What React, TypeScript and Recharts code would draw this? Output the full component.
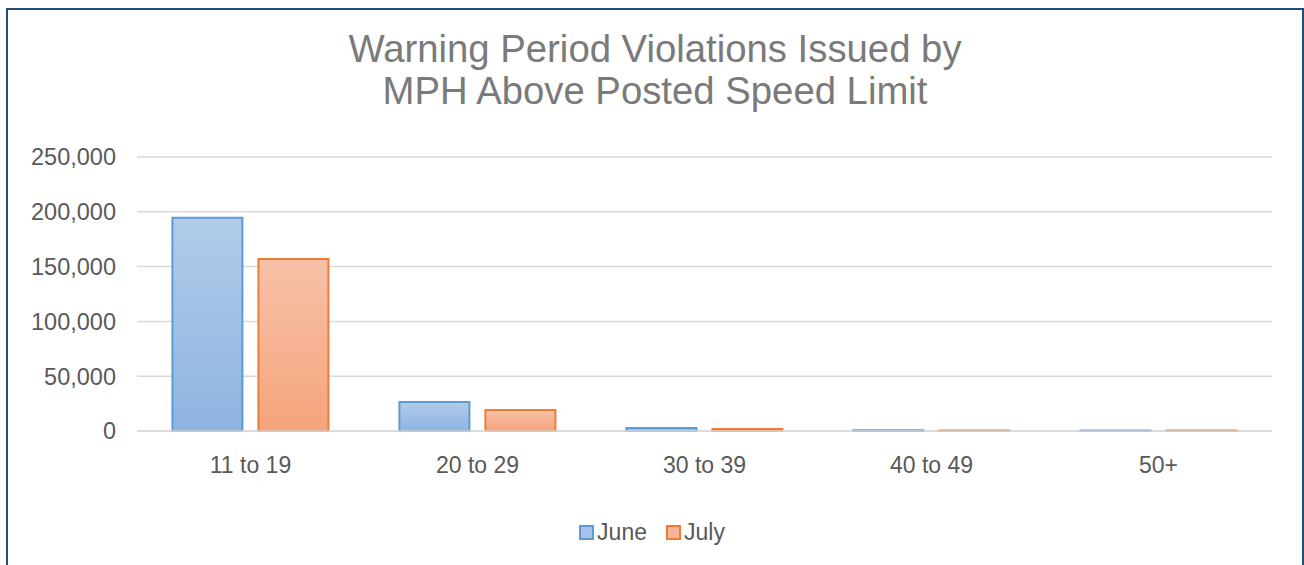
import React from 'react';
import { BarChart, Bar, XAxis, YAxis, CartesianGrid, Legend } from 'recharts';

const categories = ['11 to 19', '20 to 29', '30 to 39', '40 to 49', '50+'];
const juneValues = [194500, 26500, 2800, 600, 500];
const julyValues = [157000, 19200, 1900, 500, 400];
const yTicks = [0, 50000, 100000, 150000, 200000, 250000];

const data = categories.map((c, i) => ({ name: c, June: juneValues[i], July: julyValues[i] }));

const FONT = '"Liberation Sans", Arial, sans-serif';

const LegendContent = () => (
  <div style={{ height: 24, display: 'flex', justifyContent: 'center', alignItems: 'center', fontFamily: FONT, fontSize: 23, color: '#595959' }}>
    <span style={{ display: 'inline-block', width: 11, height: 11, background: '#a6c3e7', border: '2px solid #5b9bd5', marginRight: 3 }} />
    <span style={{ marginRight: 19 }}>June</span>
    <span style={{ display: 'inline-block', width: 11, height: 11, background: '#f6b69a', border: '2px solid #ed7d31', marginRight: 3 }} />
    <span>July</span>
  </div>
);

export default function App() {
  return (
    <div style={{ position: 'absolute', left: 0, top: 0, width: 1304, height: 565, overflow: 'hidden', background: '#fff' }}>
      <div style={{ position: 'absolute', left: 6, top: 8, width: 1294, height: 600, border: '2px solid #1f4e79' }} />
      <div style={{ position: 'absolute', left: 0, top: 28, width: 1310, textAlign: 'center', fontFamily: FONT, fontSize: 38.3, lineHeight: '42px', color: '#7a7a7a' }}>
        Warning Period Violations Issued by<br />MPH Above Posted Speed Limit
      </div>
      <div style={{ position: 'absolute', left: 0, top: 0 }}>
        <BarChart width={1304} height={565} data={data} margin={{ top: 157, right: 32, bottom: 70, left: 0 }} barCategoryGap="15.6%" barGap={16}>
          <defs>
            <linearGradient id="gJune" x1="0" y1="0" x2="0" y2="1">
              <stop offset="0%" stopColor="#b2cbe9" />
              <stop offset="100%" stopColor="#8eb4e1" />
            </linearGradient>
            <linearGradient id="gJuly" x1="0" y1="0" x2="0" y2="1">
              <stop offset="0%" stopColor="#f7c1a9" />
              <stop offset="100%" stopColor="#f5a47c" />
            </linearGradient>
          </defs>
          <CartesianGrid vertical={false} stroke="#d9d9d9" strokeWidth={1.5} />
          <XAxis dataKey="name" axisLine={{ stroke: '#d9d9d9', strokeWidth: 1.5 }} tickLine={false} tickSize={0} tickMargin={26} height={40}
            tick={{ fontFamily: FONT, fontSize: 23, fill: '#595959' }} />
          <YAxis ticks={yTicks} domain={[0, 250000]} width={137} axisLine={false} tickLine={false} tickSize={0} tickMargin={21}
            tickFormatter={(v: number) => v.toLocaleString('en-US')}
            tick={{ fontFamily: FONT, fontSize: 23.5, fill: '#595959' }} />
          <Bar dataKey="June" fill="url(#gJune)" stroke="#5b9bd5" strokeWidth={2} isAnimationActive={false} />
          <Bar dataKey="July" fill="url(#gJuly)" stroke="#ed7d31" strokeWidth={2} isAnimationActive={false} />
          <Legend content={<LegendContent />} wrapperStyle={{ position: 'absolute', top: 520, left: 0, width: 1304, bottom: 'auto' }} />
        </BarChart>
      </div>
    </div>
  );
}
